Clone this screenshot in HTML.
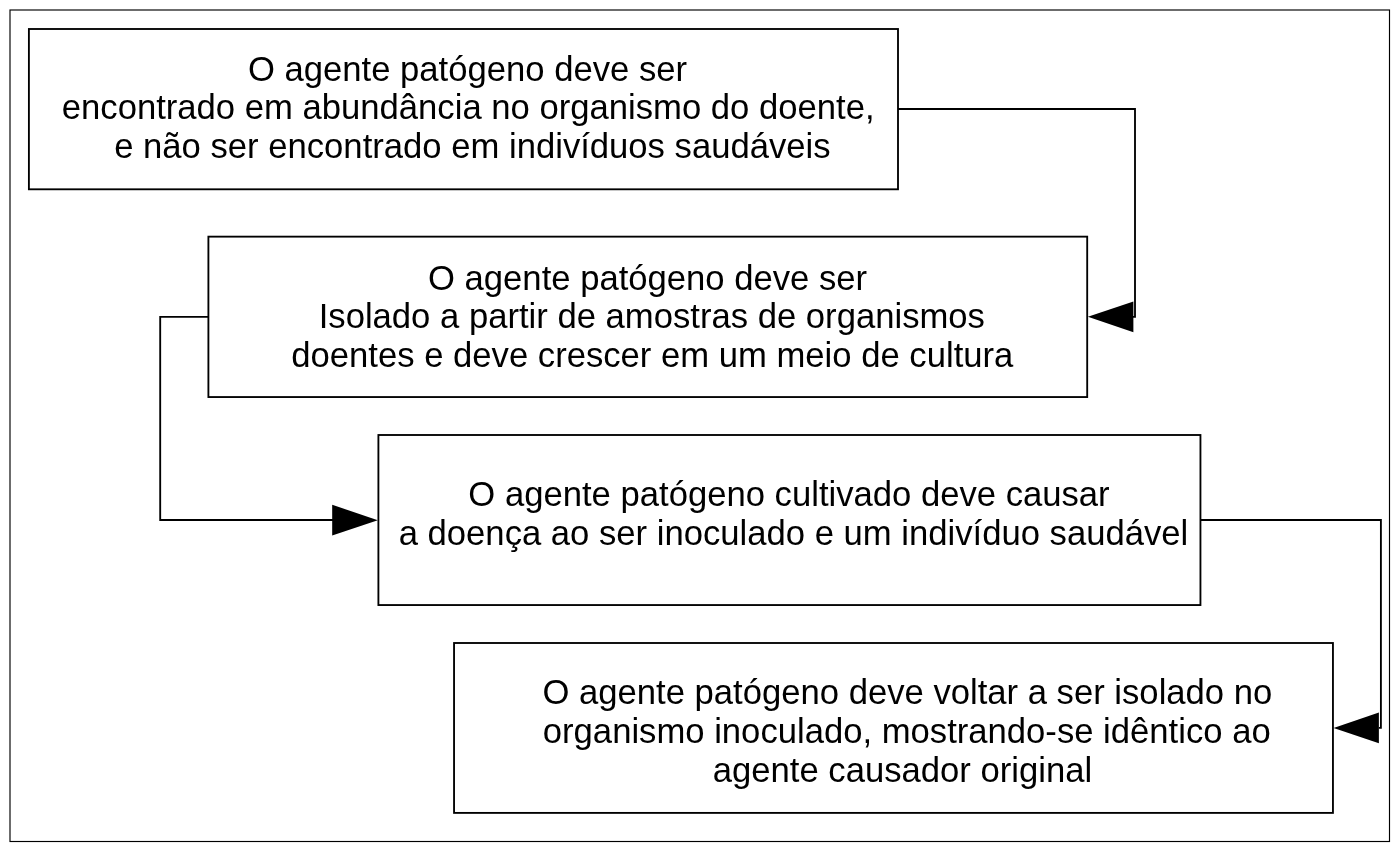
<!DOCTYPE html>
<html>
<head>
<meta charset="utf-8">
<title>Postulados de Koch</title>
<style>
html,body{margin:0;padding:0;background:#fff;}
body{width:1398px;height:850px;overflow:hidden;}
svg{display:block;position:absolute;left:0;top:0;will-change:transform;}
text{font-family:"Liberation Sans",sans-serif;font-size:34.65px;fill:#000;white-space:pre;}
.bx{fill:none;stroke:#000;stroke-width:1.85;}
.ln{fill:none;stroke:#000;stroke-width:1.85;stroke-linejoin:miter;}
.ar{fill:#000;stroke:none;}
</style>
</head>
<body>
<svg width="1398" height="850" viewBox="0 0 1398 850">
<rect x="0" y="0" width="1398" height="850" fill="#fff"/>
<!-- outer frame -->
<rect x="10" y="10" width="1379.5" height="831.5" fill="none" stroke="#000" stroke-width="1.15"/>
<!-- boxes -->
<rect class="bx" x="28.9" y="29" width="869.1" height="160.3"/>
<rect class="bx" x="208.4" y="236.65" width="878.8" height="160.4"/>
<rect class="bx" x="378.4" y="435" width="822.05" height="170.05"/>
<rect class="bx" x="454.05" y="643" width="878.9" height="169.9"/>
<!-- connectors -->
<path class="ln" d="M898 109 H1135 V316.85 H1133"/>
<path class="ar" d="M1087.9 316.85 L1133.4 301.5 V332.2 Z"/>
<path class="ln" d="M208.4 316.9 H160.2 V520 H333"/>
<path class="ar" d="M377.8 520.15 L332.2 504.8 V535.5 Z"/>
<path class="ln" d="M1200.45 519.95 H1380.9 V727.8 H1378.9"/>
<path class="ar" d="M1333.6 728 L1378.9 712.6 V743.2 Z"/>
<!-- text -->
<text x="247.90" y="80.60">O agente patógeno deve ser</text>
<text x="61.80" y="118.50">encontrado em abundância no organismo do doente,</text>
<text x="114.20" y="158.00">e não ser encontrado em indivíduos saudáveis</text>
<text x="428.00" y="289.50">O agente patógeno deve ser</text>
<text x="318.70" y="328.00">Isolado a partir de amostras de organismos</text>
<text x="291.30" y="367.20">doentes e deve crescer em um meio de cultura</text>
<text x="468.35" y="506.10">O agente patógeno cultivado deve causar</text>
<text x="398.70" y="544.80">a doença ao ser inoculado e um indivíduo saudável</text>
<text x="542.40" y="704.10">O agente patógeno deve voltar a ser isolado no</text>
<text x="542.80" y="743.10">organismo inoculado, mostrando-se idêntico ao</text>
<text x="712.80" y="782.10">agente causador original</text>
</svg>
</body>
</html>
